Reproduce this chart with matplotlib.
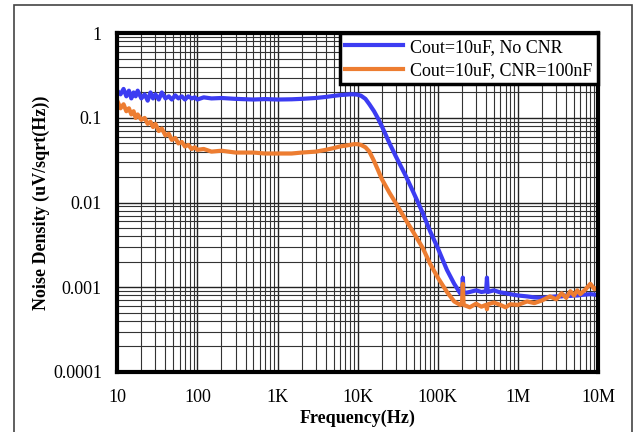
import matplotlib
matplotlib.use("Agg")
from matplotlib import pyplot as plt
from matplotlib import patches
from matplotlib.ticker import LogLocator, FixedLocator, NullFormatter

plt.rcParams['font.family'] = ['Liberation Serif', 'DejaVu Serif']

freq = [10, 11, 12, 13, 14, 15, 16, 17, 18, 20, 22, 24, 26, 28, 30, 33, 36, 40,
        44, 48, 53, 58, 64, 70, 77, 85, 93, 100, 120, 150, 200, 300, 500, 700,
        1000, 1500, 2000, 3000, 4000, 5000, 6000, 7000, 8000, 9000, 10000,
        11000, 12500, 14000, 16000, 18000, 20000, 25000, 30000, 40000, 50000,
        65000, 80000, 100000, 130000, 160000, 190000, 200000, 205000, 210000,
        250000, 300000, 350000, 400000, 410000, 420000, 500000, 600000, 700000,
        800000, 1000000, 1300000, 1600000, 2000000, 2500000, 3000000, 3500000,
        4000000, 4500000, 5000000, 5500000, 6000000, 7000000, 8000000, 9000000,
        10000000]

no_cnr = [0.21, 0.19, 0.22, 0.18, 0.21, 0.17, 0.20, 0.18, 0.21, 0.17, 0.19, 0.16,
          0.20, 0.17, 0.19, 0.165, 0.20, 0.17, 0.18, 0.165, 0.185, 0.17, 0.18,
          0.165, 0.18, 0.17, 0.175, 0.165, 0.175, 0.17, 0.172, 0.168, 0.165,
          0.167, 0.165, 0.166, 0.168, 0.172, 0.177, 0.182, 0.186, 0.188, 0.19,
          0.19, 0.188, 0.183, 0.168, 0.145, 0.12, 0.098, 0.08, 0.05, 0.035,
          0.0205, 0.013, 0.0075, 0.0046, 0.0029, 0.0016, 0.0011, 0.00085,
          0.00082, 0.0013, 0.00085, 0.00088, 0.00092, 0.00088, 0.0009, 0.0013,
          0.00088, 0.00092, 0.00087, 0.00085, 0.00083, 0.0008, 0.00078,
          0.00076, 0.00075, 0.00077, 0.00078, 0.00078, 0.0008, 0.00079, 0.0008,
          0.0008, 0.00081, 0.00082, 0.00083, 0.00082, 0.0008]

cnr_100n = [0.16, 0.13, 0.145, 0.12, 0.13, 0.11, 0.12, 0.10, 0.11, 0.095, 0.10,
            0.085, 0.09, 0.078, 0.085, 0.07, 0.075, 0.062, 0.065, 0.055, 0.058,
            0.05, 0.052, 0.046, 0.048, 0.043, 0.045, 0.042, 0.043, 0.04, 0.041,
            0.039, 0.039, 0.038, 0.038, 0.038, 0.039, 0.04, 0.042, 0.044, 0.046,
            0.047, 0.048, 0.049, 0.049, 0.048, 0.045, 0.04, 0.031, 0.024, 0.019,
            0.013, 0.0098, 0.0062, 0.0044, 0.0029, 0.0019, 0.0013, 0.00088,
            0.00068, 0.00062, 0.00064, 0.0011, 0.00062, 0.00058, 0.00064,
            0.00059, 0.00062, 0.00055, 0.00063, 0.00066, 0.00062, 0.00058,
            0.00063, 0.00062, 0.00068, 0.00065, 0.0007, 0.00078, 0.00072,
            0.00085, 0.00075, 0.0009, 0.0008, 0.00092, 0.00083, 0.00095, 0.0011,
            0.00095, 0.001]

x_ticks = [10, 100, 1e3, 1e4, 1e5, 1e6, 1e7]
x_labels = ['10', '100', '1K', '10K', '100K', '1M', '10M']
y_ticks = [1e-4, 1e-3, 1e-2, 1e-1, 1]
y_labels = ['0.0001', '0.001', '0.01', '0.1', '1']

fig = plt.figure(figsize=(6.37, 4.32), dpi=100)
ax = fig.add_axes([0.184, 0.139, 0.755, 0.784])

ax.plot(freq, no_cnr, color='#3c3cf2', lw=3, label='Cout=10uF, No CNR')
ax.plot(freq, cnr_100n, color='#ed7d31', lw=3, label='Cout=10uF, CNR=100nF')

ax.set_xscale('log')
ax.set_yscale('log')
ax.set_xlim(10, 1e7)
ax.set_ylim(1e-4, 1)

ax.xaxis.set_major_locator(FixedLocator(x_ticks))
ax.set_xticklabels(x_labels)
ax.yaxis.set_major_locator(FixedLocator(y_ticks))
ax.set_yticklabels(y_labels)
ax.xaxis.set_minor_locator(LogLocator(base=10, subs=range(2, 10), numticks=20))
ax.yaxis.set_minor_locator(LogLocator(base=10, subs=range(2, 10), numticks=20))
ax.xaxis.set_minor_formatter(NullFormatter())
ax.yaxis.set_minor_formatter(NullFormatter())

ax.grid(which='major', color='#222222', lw=1.0)
ax.grid(which='minor', color='#333333', lw=0.8)
ax.set_axisbelow(True)
ax.tick_params(which='both', length=0, labelsize=13)
ax.tick_params(axis='x', pad=12)
ax.tick_params(axis='y', pad=11)

for s in ax.spines.values():
    s.set_linewidth(3)
    s.set_color('black')

ax.set_xlabel('Frequency(Hz)', fontsize=13, fontweight='bold', labelpad=3)
ax.set_ylabel('Noise Density (uV/sqrt(Hz))', fontsize=13, fontweight='bold', labelpad=2)

leg = ax.legend(loc='upper right', fontsize=13, frameon=True, fancybox=False,
                framealpha=1, borderaxespad=0, handlelength=3.2,
                borderpad=0.3, labelspacing=0.35, handletextpad=0.4)
leg.get_frame().set_edgecolor('black')
leg.get_frame().set_linewidth(2.5)
for line in leg.get_lines():
    line.set_linewidth(3)

border = patches.Rectangle((0.022, -0.02), 0.970, 1.008, transform=fig.transFigure,
                           fill=False, edgecolor='#444444', lw=1.2, clip_on=False)
fig.patches.append(border)

fig.savefig('out.png', dpi=100)
